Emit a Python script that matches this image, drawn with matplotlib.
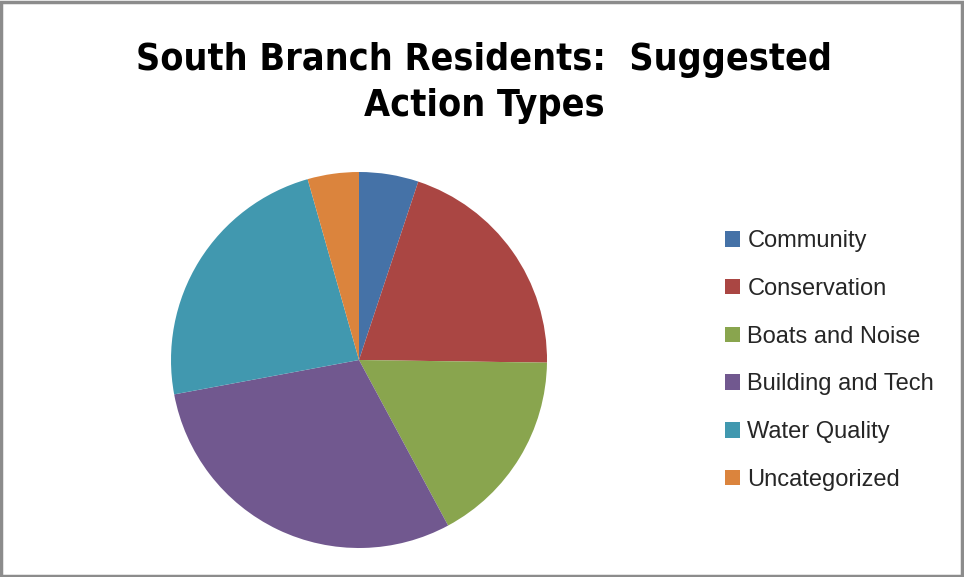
import matplotlib
matplotlib.use('Agg')
import matplotlib.pyplot as plt
from matplotlib.patches import Rectangle

categories = ['Community', 'Conservation', 'Boats and Noise',
              'Building and Tech', 'Water Quality', 'Uncategorized']
shares = [5.1, 20.1, 16.9, 29.9, 23.5, 4.4]
colors = ['#4572A7', '#AA4643', '#89A54E', '#71588F', '#4198AF', '#DB843D']

W, H = 964, 577
fig = plt.figure(figsize=(W / 100, H / 100), dpi=100)

# pie placed in pixel space: centre (359, 360), radius 188
cx, cy, r = 359, 360, 188
ax = fig.add_axes([(cx - r) / W, (H - cy - r) / H, 2 * r / W, 2 * r / H])
wedges, _ = ax.pie(shares, colors=colors, startangle=90, counterclock=False,
                   radius=1, wedgeprops=dict(linewidth=0))
ax.set_xlim(-1, 1)
ax.set_ylim(-1, 1)
ax.set_aspect('equal')
ax.axis('off')

fig.text(484 / W, 1 - 83 / H, 'South Branch Residents:  Suggested\nAction Types',
         ha='center', va='center', fontsize=27, fontweight='bold',
         fontstretch='condensed', family='DejaVu Sans', linespacing=1.36)

leg = fig.legend(wedges, categories, loc='upper left',
                 bbox_to_anchor=(704 / W, 1 - 209 / H), frameon=False,
                 handlelength=0.64, handleheight=0.64,
                 handletextpad=0.3, labelspacing=1.09,
                 prop={'family': ['Liberation Sans', 'DejaVu Sans'], 'size': 17})
for t in leg.get_texts():
    t.set_color('#262626')

fig.patches.append(Rectangle((0.0015, 0.0025), 0.996, 0.994, transform=fig.transFigure,
                             fill=False, edgecolor='#8c8c8c', linewidth=2.5))

fig.savefig('out.png', dpi=100)
